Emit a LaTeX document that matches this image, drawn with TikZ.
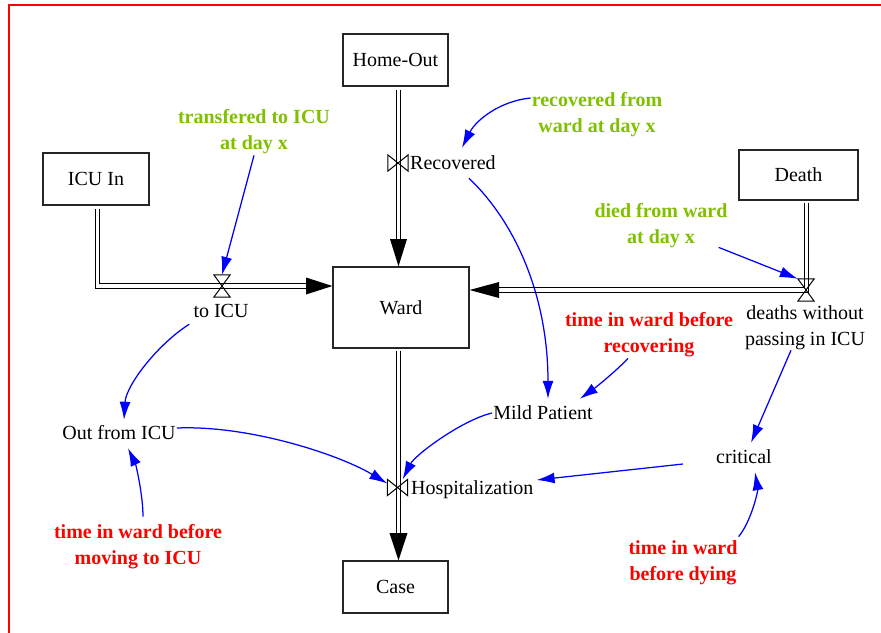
\documentclass[tikz,border=0pt]{standalone}
\usepackage{fontspec}
\setmainfont{Liberation Serif}
\usetikzlibrary{arrows.meta}
\definecolor{lblgreen}{RGB}{128,192,0}
\begin{document}
\begin{tikzpicture}[x=1pt,y=-1pt,
  every node/.style={font=\fontsize{20}{26}\selectfont},
  box/.style={draw=black!85, line width=1.2pt, minimum width=105pt, minimum height=52pt, inner sep=0pt},
  txt/.style={inner sep=1pt, align=center},
  txtone/.style={inner sep=1pt, text height=15.5pt, text depth=2.5pt},
  glabel/.style={txt, text=lblgreen, font=\fontsize{20}{26}\selectfont\bfseries},
  rlabel/.style={txt, text=red, font=\fontsize{20}{26}\selectfont\bfseries},
  pipe/.style={draw=black, line width=1.1pt, double=white, double distance=3.6pt},
  link/.style={draw=blue, line width=1.25pt, -{Latex[length=18pt,width=11pt]}},
  valve/.style={inner sep=0pt, minimum width=20pt, minimum height=16pt},
  vvalve/.style={inner sep=0pt, minimum width=16pt, minimum height=22pt},
  valveline/.style={draw=black, line width=1pt}
]
\useasboundingbox (0,0) rectangle (881,632);
\fill[white] (0,0) rectangle (881,632);
\draw[red, line width=2pt] (9,700) -- (9,5) -- (900,5);

% stocks
\node[box] (HO) at (395.5,60) {Home-Out};
\node[box, minimum width=106pt] (ICU) at (96,179) {ICU In};
\node[box, minimum width=136pt, minimum height=81pt] (Ward) at (401,307.5) {Ward};
\node[box, minimum width=119pt, minimum height=50pt] (Death) at (798.5,175) {Death};
\node[box] (Case) at (395.5,587) {Case};

% valves
\node[valve] (vRec) at (398,163) {};
\node[vvalve] (vICU) at (222,286) {};
\node[vvalve] (vDeath) at (806,290) {};
\node[valve] (vHosp) at (397.5,487.5) {};

% text variables
\node[txtone, anchor=west] (Rec) at (409,163) {Recovered};
\node[txtone] (toICU) at (221,311) {to ICU};
\node[txt] (deaths) at (805,328) {deaths without\\passing in ICU};
\node[txtone, anchor=west] (Hosp) at (410,488) {Hospitalization};
\node[txtone] (Out) at (119,433) {Out from ICU};
\node[txtone] (Mild) at (543,413) {Mild Patient};
\node[txtone] (crit) at (744,457) {critical};
\node[glabel] (trans) at (254,132) {transfered to ICU\\at day x};
\node[glabel] (recfrom) at (597,115) {recovered from\\ward at day x};
\node[glabel] (died) at (661,226) {died from ward\\at day x};
\node[rlabel] (trecov) at (649,335) {time in ward before\\recovering};
\node[rlabel] (tmoving) at (138,547) {time in ward before\\moving to ICU};
\node[rlabel] (tdying) at (683,563) {time in ward\\before dying};

% pipes
\coordinate (aHO) at (398.5,239);
\draw[pipe, shorten <=3pt] (HO.south -| aHO) -- (aHO);
\fill ([xshift=-8.5pt]aHO) -- ([xshift=8.5pt]aHO) -- (aHO |- Ward.north) -- cycle;

\coordinate (cICU) at (97.5,286);
\coordinate (aICU) at (306,286);
\draw[pipe, shorten <=3pt] (ICU.south -| cICU) -- (cICU) -- (aICU);
\fill ([yshift=8.5pt]aICU) -- ([yshift=-8.5pt]aICU) -- (aICU -| Ward.west) -- cycle;

\coordinate (cD) at (806.5,290);
\coordinate (aD) at (499,290);
\draw[pipe, shorten <=2pt] (Death.south -| cD) -- (cD) -- (aD);
\fill ([yshift=8pt]aD) -- ([yshift=-8pt]aD) -- (aD -| Ward.east) -- cycle;

\coordinate (aC) at (398.5,533);
\draw[pipe, shorten <=2pt] (Ward.south -| aC) -- (aC);
\fill ([xshift=-9pt]aC) -- ([xshift=9pt]aC) -- (aC |- Case.north) -- cycle;

% valve symbols
\draw[valveline] (vRec.north west) -- (vRec.south east) -- (vRec.north east) -- (vRec.south west) -- cycle;
\draw[valveline] (vHosp.north west) -- (vHosp.south east) -- (vHosp.north east) -- (vHosp.south west) -- cycle;
\draw[valveline] (vICU.north west) -- (vICU.south east) -- (vICU.south west) -- (vICU.north east) -- cycle;
\draw[valveline] (vDeath.north west) -- (vDeath.south east) -- (vDeath.south west) -- (vDeath.north east) -- cycle;

% links
\draw[link] (trans.south) -- (vICU.north);
\draw[link] ([yshift=17pt]recfrom.west) .. controls (500,101) and (476,120) .. ([xshift=9pt,yshift=5pt]Rec.north);
\draw[link] ([xshift=-10pt,yshift=2pt]died.south east) -- (vDeath.north west);
\draw[link] ([xshift=16pt,yshift=-5pt]Rec.south) .. controls (518,225) and (548,300) .. ([xshift=5pt,yshift=4pt]Mild.north);
\draw[link] ([xshift=-21pt]trecov.south) .. controls (615,372) and (595,388) .. ([xshift=-14pt,yshift=4pt]Mild.north east);
\draw[link] ([xshift=-3pt,yshift=-3pt]toICU.south west) .. controls (158,344) and (126,385) .. ([xshift=5pt,yshift=3pt]Out.north);
\draw[link] ([yshift=5pt]Out.east) .. controls (250,425) and (340,455) .. ([yshift=4pt]vHosp.west);
\draw[link] (Mild.west) .. controls (462,420) and (415,455) .. ([xshift=-5pt]vHosp.north east);
\draw[link] ([xshift=-32pt,yshift=-7pt]crit.west) -- ([xshift=2pt,yshift=8pt]Hosp.east);
\draw[link] ([xshift=-14pt,yshift=1pt]deaths.south) -- ([xshift=7pt,yshift=4pt]crit.north);
\draw[link] ([yshift=3pt]tdying.north east) .. controls (752,520) and (758,490) .. ([xshift=11pt,yshift=-5pt]crit.south);
\draw[link] ([xshift=5pt,yshift=7pt]tmoving.north) .. controls (143,495) and (136,465) .. ([xshift=9pt,yshift=-5pt]Out.south);
\end{tikzpicture}
\end{document}
